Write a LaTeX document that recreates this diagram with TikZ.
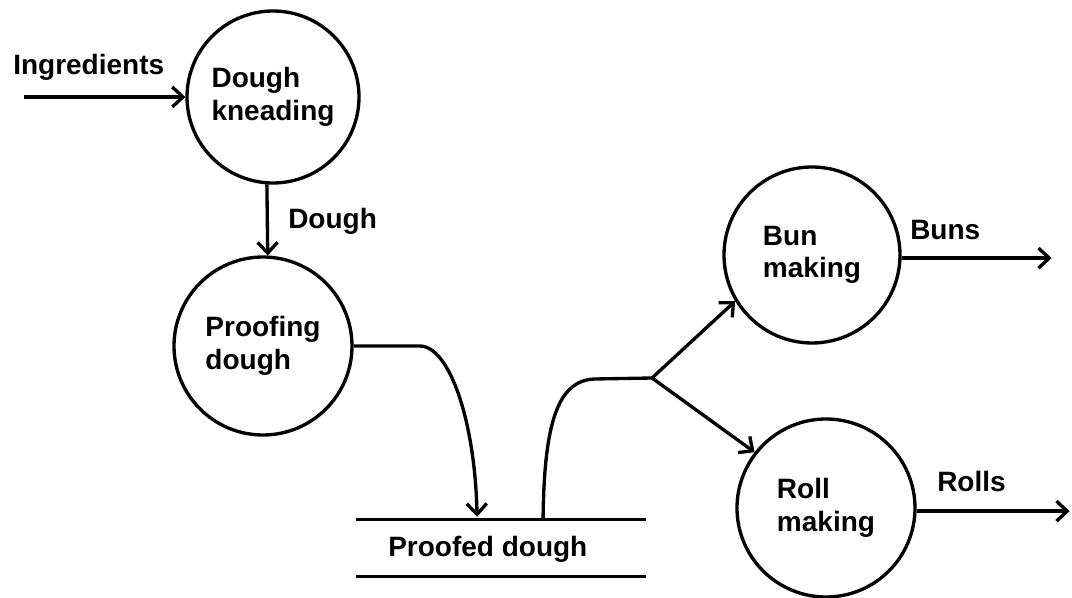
\documentclass[tikz,border=0pt]{standalone}
\usepackage{fontspec}
\setmainfont{Liberation Sans}
\usetikzlibrary{arrows.meta,calc}
\begin{document}
\begin{tikzpicture}[x=0.75pt,y=-0.75pt,
  txt/.style={font=\fontsize{21}{24.5}\selectfont\bfseries},
  proc/.style={txt, draw, circle, line width=2.5pt, inner sep=0pt, align=left},
  lbl/.style={txt, inner sep=0pt, anchor=base west},
  wire/.style={line width=2.5pt},
  flow/.style={wire, -{Straight Barb[length=8pt,width=15pt]}}]
\useasboundingbox[fill=white] (0,0) rectangle (1072,598);

% processes
\node[proc, minimum size=129pt]   (dk)   at (273,97)  {Dough\\kneading};
\node[proc, minimum size=133.5pt] (pd)   at (263,346) {Proofing\\dough};
\node[proc, minimum size=132pt]   (bun)  at (812,255) {Bun\\making};
\node[proc, minimum size=133.5pt] (roll) at (826,508) {Roll\\making};

% data store
\node[minimum width=217pt, minimum height=42pt, inner sep=0pt] (store) at (501,548) {};
\draw[wire] (store.north west) -- (store.north east);
\draw[wire] (store.south west) -- (store.south east);
\node[lbl] (storetext) at (388,557) {Proofed dough};

% flow labels
\node[lbl] (ing)      at (13,75)   {Ingredients};
\node[lbl] (doughlbl) at (288,229) {Dough};
\node[lbl] (bunslbl)  at (910,240) {Buns};
\node[lbl] (rollslbl) at (937,492) {Rolls};

% free ends and bends
\coordinate (ingstart) at (24,97);
\coordinate (branch)   at (652,378);
\coordinate (storein)  at ($(store.north west)+(121,-3)$);
\coordinate (storeout) at ($(store.north west)+(187,0)$);
\coordinate (bend1)    at ($(pd.east)+(66,0)$);
\coordinate (bend2)    at ($(branch)+(-57,1)$);
\coordinate (bunsend)  at ($(bun.-2)+(150,0)$);
\coordinate (rollsend) at ($(roll.-2.6)+(153,0)$);

% flows
\draw[flow] (ingstart) -- (dk.west);
\draw[flow] (dk.266.7) -- (pd.87.4);
\draw[flow] (pd.east) -- (bend1)
  .. controls ($(bend1)+(30,0)$) and ($(storein)+(-2,-95)$) .. (storein);
\draw[wire] (storeout)
  .. controls ($(storeout)+(1,-95)$) and ($(bend2)+(-38,1)$) .. (bend2) -- (branch);
\draw[flow] (branch) -- (bun.211);
\draw[flow] (branch) -- (roll.142);
\draw[flow] (bun.-2) -- (bunsend);
\draw[flow] (roll.-2.6) -- (rollsend);
\end{tikzpicture}
\end{document}
